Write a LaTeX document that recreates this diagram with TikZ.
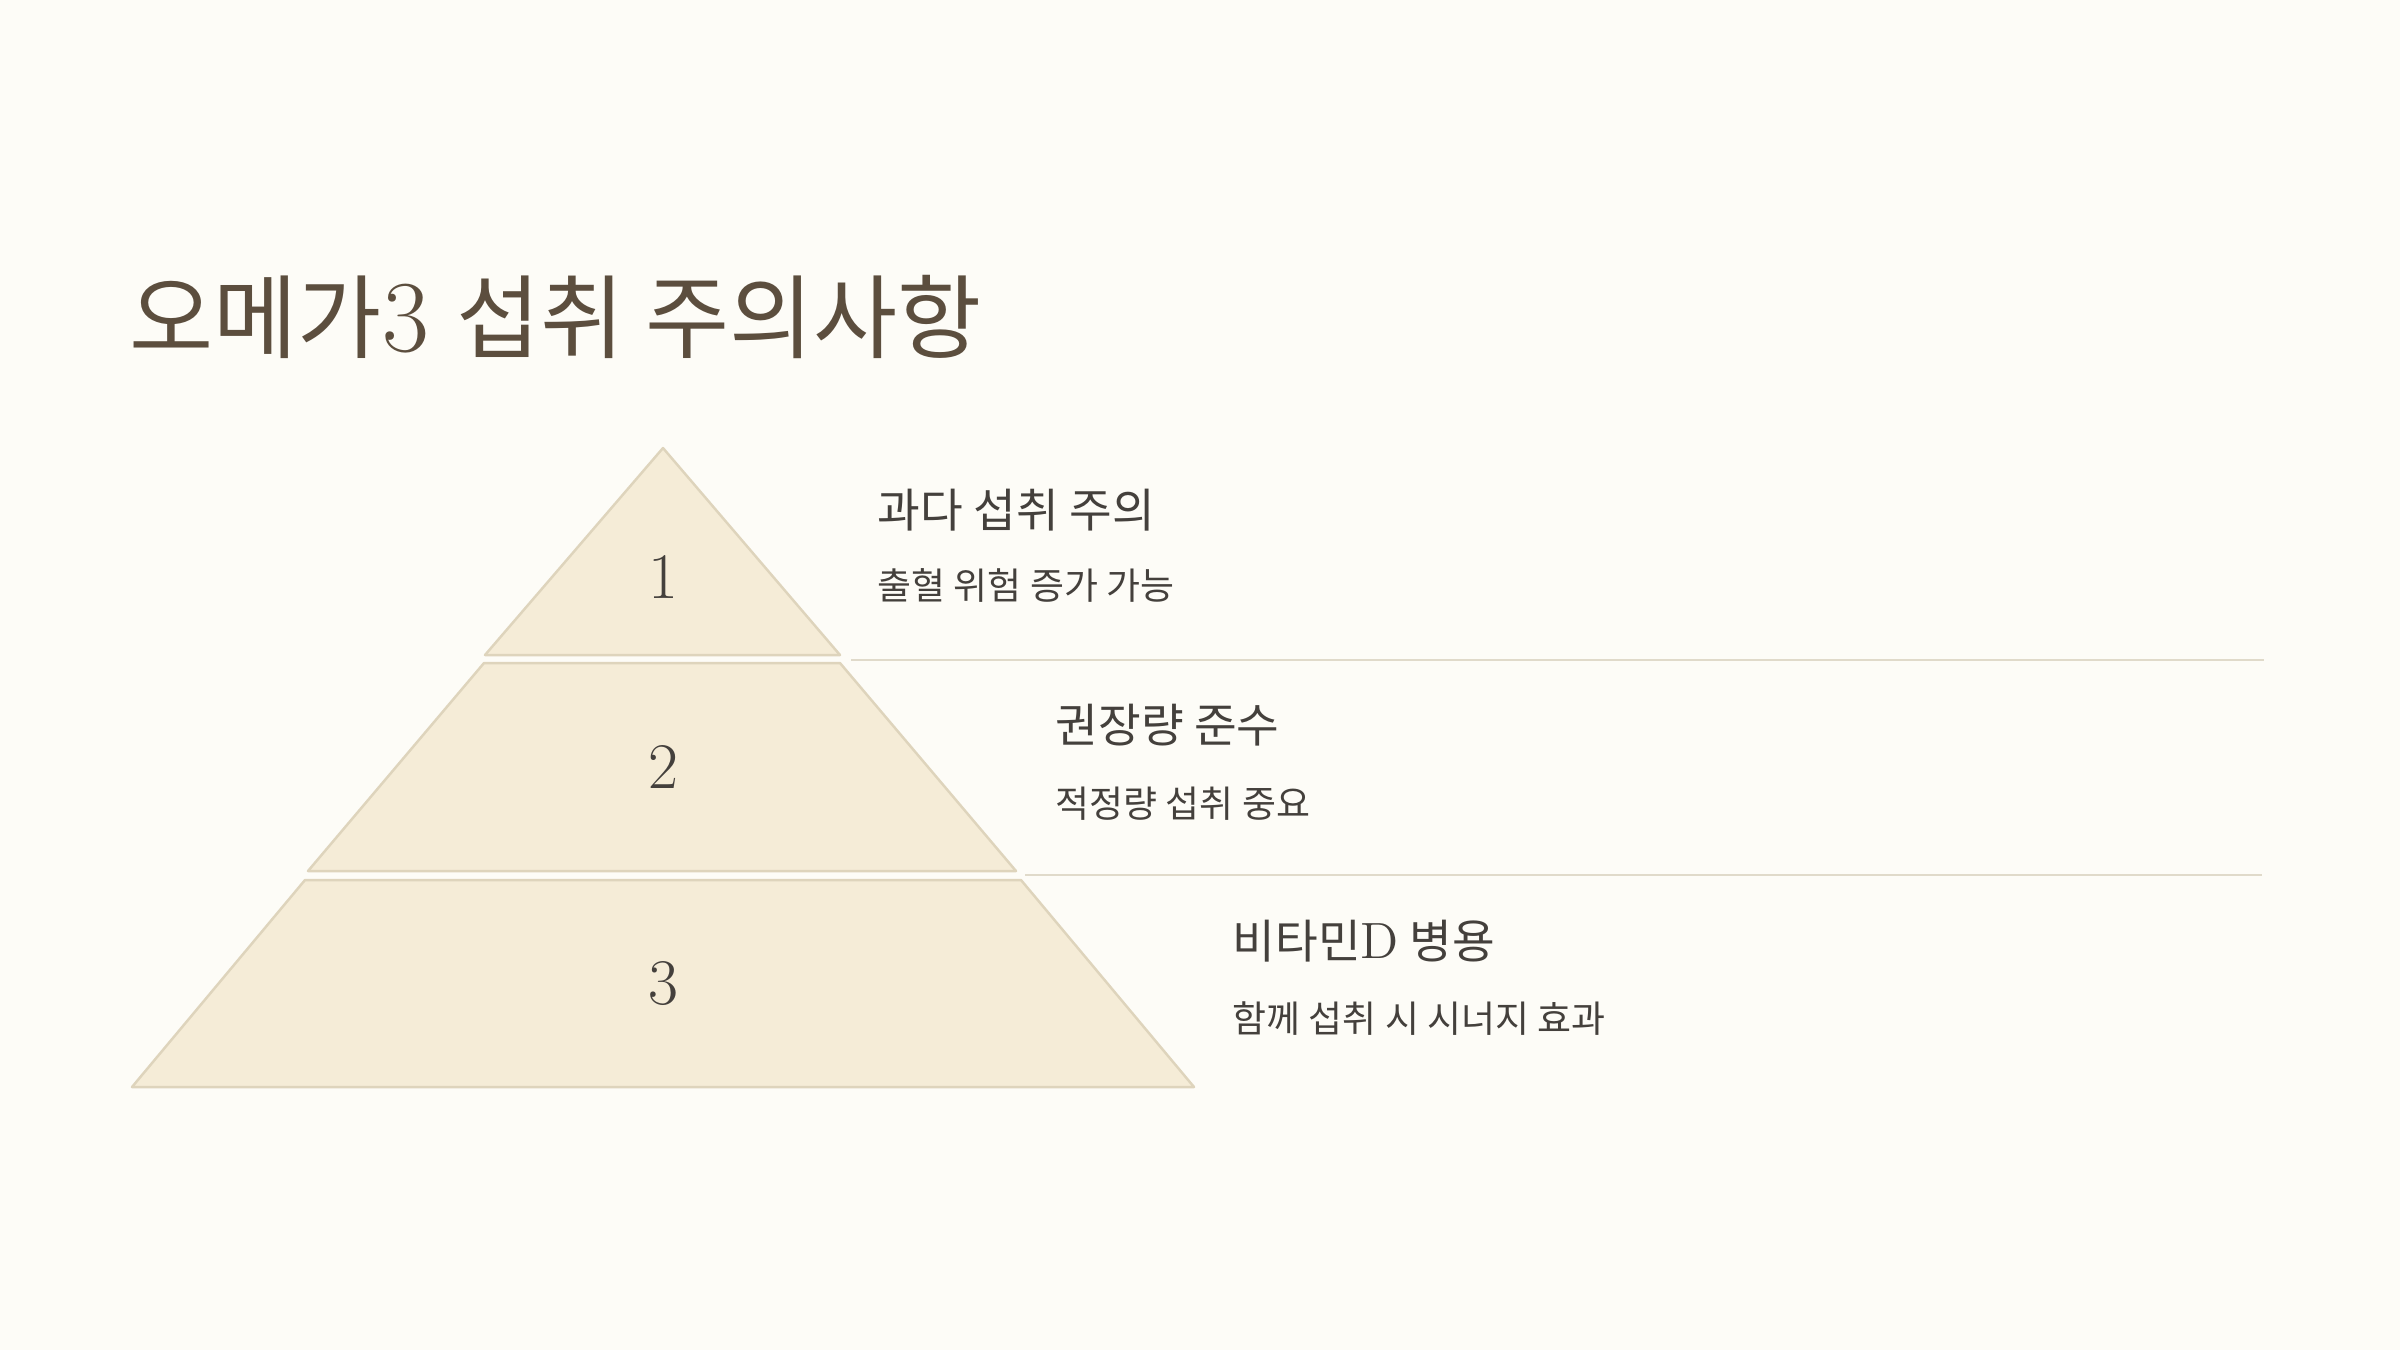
\documentclass[tikz,border=0pt]{standalone}
\usepackage{fontspec}
\usepackage{xcolor}
\usetikzlibrary{positioning}
\newfontfamily\kr{Noto Sans CJK KR}
\definecolor{bgcream}{RGB}{253,252,247}
\definecolor{tierfill}{RGB}{245,236,215}
\definecolor{tierline}{RGB}{222,212,188}
\definecolor{titlebrown}{RGB}{92,78,62}
\definecolor{textgray}{RGB}{68,64,60}
\definecolor{rulegray}{RGB}{224,218,202}

\begin{document}
\begin{tikzpicture}[x=0.01cm,y=-0.01cm,
  tier/.style={fill=tierfill,draw=tierline,line width=0.7pt,line join=round},
  num/.style={text=textgray,font=\fontsize{18.5}{18}\selectfont},
  head/.style={anchor=west,inner sep=0pt,text=textgray,font=\kr\fontsize{13.2}{14}\selectfont},
  note/.style={anchor=west,inner sep=0pt,text=textgray,font=\kr\fontsize{10.5}{12}\selectfont}]
% page
\fill[bgcream] (0,0) rectangle (2400,1350);
\useasboundingbox (0,0) rectangle (2400,1350);
% title
\node[anchor=west,inner sep=0pt,text=titlebrown,font=\fontsize{26}{30}\selectfont] (title) at (129,317)
  {{\kr 오메가}{\fontsize{29}{30}\selectfont 3} {\kr 섭취 주의사항}};

% pyramid tiers
\draw[tier] (663,448) -- (840,655) -- (485,655) -- cycle;
\draw[tier] (484,663) -- (840,663) -- (1016,871) -- (308,871) -- cycle;
\draw[tier] (305,880) -- (1021,880) -- (1194,1087) -- (132,1087) -- cycle;
\node[num] (n1) at (663,577) {1};
\node[num] (n2) at (663,767) {2};
\node[num] (n3) at (663,983) {3};

% separators
\coordinate (r1a) at (851,660);
\coordinate (r1b) at (2264,660);
\coordinate (r2a) at (1025,875);
\coordinate (r2b) at (2262,875);
\draw[rulegray,line width=0.7pt] (r1a) -- (r1b);
\draw[rulegray,line width=0.7pt] (r2a) -- (r2b);

% labels
\node[head] (h1) at (877,510) {과다 섭취 주의};
\node[note] (s1) at (877,585) {출혈 위험 증가 가능};
\node[head] (h2) at (1055,725) {권장량 준수};
\node[note] (s2) at (1055,804) {적정량 섭취 중요};
\node[head] (h3) at (1232,941) {비타민{\rmfamily\fontsize{14.5}{14}\selectfont D} 병용};
\node[note] (s3) at (1232,1019) {함께 섭취 시 시너지 효과};
\end{tikzpicture}
\end{document}
